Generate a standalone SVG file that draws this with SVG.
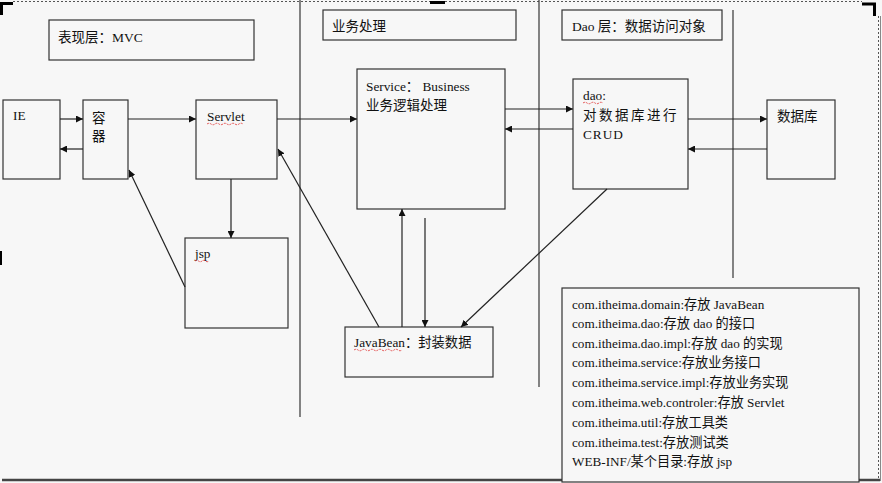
<svg xmlns="http://www.w3.org/2000/svg" width="882" height="483" viewBox="0 0 882 483">
<style>
.bg{fill:#f7f7f7}
.box{fill:#f7f7f7;stroke:#333;stroke-width:1.2}
.sep{stroke:#444;stroke-width:1.3;fill:none}
.arr{stroke:#222;stroke-width:1.2;fill:none;marker-end:url(#ah)}
text{font-family:"Liberation Serif","Noto Sans CJK SC",serif;font-size:13.3px;fill:#111}
.t14{font-size:13.5px}
.pk{font-size:13.2px}
.ul{stroke:#e03030;stroke-width:0.8;fill:none;stroke-dasharray:2 1}
</style>
<defs>
<marker id="ah" viewBox="0 0 10 10" refX="10" refY="5" markerWidth="7" markerHeight="7" markerUnits="userSpaceOnUse" orient="auto">
<path d="M0,0 L10,5 L0,10 z" fill="#111"/>
</marker>
</defs>
<rect class="bg" x="0" y="0" width="882" height="483"/>
<g id="frame">
<line x1="13" y1="1.5" x2="862" y2="1.5" stroke="#555" stroke-width="1" stroke-dasharray="2 2"/>
<line x1="878.5" y1="16" x2="878.5" y2="478" stroke="#555" stroke-width="1" stroke-dasharray="2 2"/>
<line x1="2" y1="480" x2="880" y2="480" stroke="#444" stroke-width="2.5"/>
<line x1="880.5" y1="16" x2="880.5" y2="481" stroke="#888" stroke-width="1"/>
<path d="M0,3.5 H13 M1.5,3.5 V15" stroke="#000" stroke-width="3" fill="none"/>
<path d="M862,4 H876 M874.5,4 V16" stroke="#000" stroke-width="3" fill="none"/>
<rect x="430" y="1" width="15" height="3" fill="#000"/>
<rect x="0" y="251" width="2" height="14" fill="#000"/>
</g>
<g id="separators">
<line class="sep" x1="300" y1="0" x2="300" y2="417"/>
<line class="sep" x1="539" y1="0" x2="539" y2="387"/>
<line class="sep" x1="733" y1="10" x2="733" y2="278"/>
</g>
<g id="title-mvc">
<rect class="box" x="49" y="20" width="205" height="40"/>
<text class="t14" x="58" y="42">表现层：MVC</text>
</g>
<g id="title-business">
<rect class="box" x="323" y="10" width="193" height="30"/>
<text class="t14" x="332" y="31">业务处理</text>
</g>
<g id="title-dao">
<rect class="box" x="562" y="10" width="160" height="30"/>
<text class="t14" x="572" y="31">Dao 层：数据访问对象</text>
</g>
<g id="ie">
<rect class="box" x="3" y="100" width="57" height="79"/>
<text x="13" y="120">IE</text>
</g>
<g id="container">
<rect class="box" x="83" y="100" width="45" height="79"/>
<text class="t14" x="92" y="123">容</text>
<text class="t14" x="92" y="141">器</text>
</g>
<g id="servlet">
<rect class="box" x="196" y="100" width="81" height="79"/>
<text x="207" y="121">Servlet</text>
<path class="ul" d="M207,124 q2,-1.5 4,0 q2,1.5 4,0 q2,-1.5 4,0 q2,1.5 4,0 q2,-1.5 4,0 q2,1.5 4,0 q2,-1.5 4,0 q2,1.5 4,0 q2,-1.5 4,0"/>
</g>
<g id="jsp">
<rect class="box" x="185" y="238" width="103" height="90"/>
<text x="195" y="258">jsp</text>
<path class="ul" d="M195,261 q2,-1.5 3.5,0 q2,1.5 3.5,0 q2,-1.5 3.5,0 q2,1.5 3.5,0"/>
</g>
<g id="service">
<rect class="box" x="357" y="69" width="148" height="140"/>
<text x="366" y="91">Service： Business</text>
<text class="t14" x="366" y="110">业务逻辑处理</text>
</g>
<g id="dao">
<rect class="box" x="573" y="79" width="115" height="110"/>
<text x="583" y="100">dao:</text>
<path class="ul" d="M583,103 q2,-1.5 4,0 q2,1.5 4,0 q2,-1.5 4,0 q2,1.5 4,0 q2,-1.5 4,0"/>
<text class="t14" x="583" y="120" letter-spacing="2.5">对数据库进行</text>
<text x="583" y="139" letter-spacing="1">CRUD</text>
</g>
<g id="database">
<rect class="box" x="767" y="100" width="68" height="79"/>
<text class="t14" x="777" y="121">数据库</text>
</g>
<g id="javabean">
<rect class="box" x="345" y="327" width="148" height="50"/>
<text x="354" y="347">JavaBean：封装数据</text>
<path class="ul" d="M354,350 q2,-1.5 4,0 q2,1.5 4,0 q2,-1.5 4,0 q2,1.5 4,0 q2,-1.5 4,0 q2,1.5 4,0 q2,-1.5 4,0 q2,1.5 4,0 q2,-1.5 4,0 q2,1.5 4,0 q2,-1.5 4,0 q2,1.5 4,0"/>
</g>
<g id="packages">
<rect class="box" x="562" y="288" width="297" height="194"/>
<text class="pk" x="572" y="309">com.itheima.domain:存放 JavaBean</text>
<text class="pk" x="572" y="328">com.itheima.dao:存放 dao 的接口</text>
<text class="pk" x="572" y="348">com.itheima.dao.impl:存放 dao 的实现</text>
<text class="pk" x="572" y="367">com.itheima.service:存放业务接口</text>
<text class="pk" x="572" y="387">com.itheima.service.impl:存放业务实现</text>
<text class="pk" x="572" y="407">com.itheima.web.controler:存放 Servlet</text>
<text class="pk" x="572" y="427">com.itheima.util:存放工具类</text>
<text class="pk" x="572" y="447">com.itheima.test:存放测试类</text>
<text class="pk" x="572" y="466">WEB-INF/某个目录:存放 jsp</text>
</g>
<g id="connectors">
<line class="arr" x1="60" y1="119" x2="83" y2="119"/>
<line class="arr" x1="83" y1="149" x2="60" y2="149"/>
<line class="arr" x1="128" y1="119" x2="196" y2="119"/>
<line class="arr" x1="277" y1="119" x2="357" y2="119"/>
<line class="arr" x1="505" y1="109" x2="573" y2="109"/>
<line class="arr" x1="573" y1="129" x2="505" y2="129"/>
<line class="arr" x1="688" y1="119" x2="767" y2="119"/>
<line class="arr" x1="767" y1="149" x2="688" y2="149"/>
<line class="arr" x1="231" y1="179" x2="231" y2="238"/>
<line class="arr" x1="185" y1="287" x2="129" y2="170"/>
<line class="arr" x1="379" y1="327" x2="278" y2="149"/>
<line class="arr" x1="402" y1="327" x2="402" y2="209"/>
<line class="arr" x1="425" y1="218" x2="425" y2="327"/>
<line class="arr" x1="607" y1="189" x2="461" y2="327"/>
</g>
</svg>
